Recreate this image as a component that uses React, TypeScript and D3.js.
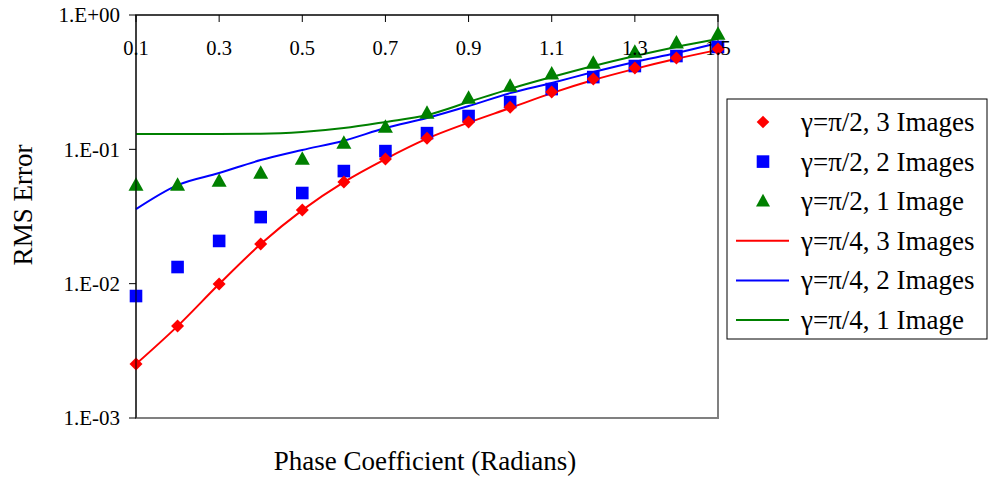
import React from 'react';
import * as d3 from 'd3';

const phase = [0.1, 0.2, 0.3, 0.4, 0.5, 0.6, 0.7, 0.8, 0.9, 1.0, 1.1, 1.2, 1.3, 1.4, 1.5];

// gamma = pi/2 (markers)
const half3 = [0.00252, 0.00483, 0.00993, 0.0197, 0.0353, 0.0571, 0.0847, 0.121, 0.160, 0.206, 0.267, 0.334, 0.403, 0.478, 0.558];
const half2 = [0.00809, 0.0133, 0.0208, 0.0313, 0.0473, 0.0689, 0.097, 0.132, 0.177, 0.225, 0.281, 0.345, 0.417, 0.495, 0.578];
const half1 = [0.0542, 0.0542, 0.058, 0.0666, 0.0847, 0.111, 0.1466, 0.186, 0.241, 0.296, 0.364, 0.439, 0.53, 0.619, 0.722];

// gamma = pi/4 (lines)
const quarter3 = [0.00252, 0.00483, 0.00993, 0.0197, 0.0353, 0.0571, 0.0847, 0.12, 0.158, 0.203, 0.262, 0.328, 0.397, 0.472, 0.55];
const quarter2 = [0.0359, 0.0542, 0.0666, 0.0832, 0.0989, 0.116, 0.144, 0.171, 0.21, 0.262, 0.312, 0.376, 0.447, 0.521, 0.619];
const quarter1 = [0.130, 0.130, 0.130, 0.1305, 0.1345, 0.144, 0.160, 0.18, 0.225, 0.282, 0.345, 0.417, 0.495, 0.578, 0.662];

const xTicks = [0.1, 0.3, 0.5, 0.7, 0.9, 1.1, 1.3, 1.5];
const yTicks = [1, 0.1, 0.01, 0.001];
const yTickLabels = ['1.E+00', '1.E-01', '1.E-02', '1.E-03'];

const legendLabels = [
  'γ=π/2, 3 Images',
  'γ=π/2, 2 Images',
  'γ=π/2, 1 Image',
  'γ=π/4, 3 Images',
  'γ=π/4, 2 Images',
  'γ=π/4, 1 Image',
];

const RED = '#ff0000';
const BLUE = '#0000ff';
const GREEN = '#008000';
const FONT = '"Liberation Serif", "Times New Roman", serif';

type MarkerKind = 'diamond' | 'square' | 'triangle';

const markerPath = (kind: MarkerKind, cx: number, cy: number, s: number) => {
  if (kind === 'diamond') {
    return `M${cx},${cy - s}L${cx + s},${cy}L${cx},${cy + s}L${cx - s},${cy}Z`;
  }
  if (kind === 'square') {
    return `M${cx - s},${cy - s}H${cx + s}V${cy + s}H${cx - s}Z`;
  }
  return `M${cx},${cy - s * 1.05}L${cx + s},${cy + s * 0.75}L${cx - s},${cy + s * 0.75}Z`;
};

export default function App() {
  const width = 988;
  const height = 477;
  const left = 136;
  const right = 718;
  const top = 15;
  const bottom = 418;

  const x = d3.scaleLinear().domain([0.1, 1.5]).range([left, right]);
  const y = d3.scaleLog().domain([0.001, 1]).range([bottom, top]);

  const line = d3
    .line<number>()
    .x((_, i) => x(phase[i]))
    .y((d) => y(d))
    .curve(d3.curveMonotoneX);

  const markerSeries: { values: number[]; kind: MarkerKind; color: string; size: number }[] = [
    { values: half1, kind: 'triangle', color: GREEN, size: 7.5 },
    { values: half2, kind: 'square', color: BLUE, size: 6.3 },
    { values: half3, kind: 'diamond', color: RED, size: 6.5 },
  ];

  const lineSeries = [
    { values: quarter1, color: GREEN },
    { values: quarter2, color: BLUE },
    { values: quarter3, color: RED },
  ];

  const legendItems: { kind: MarkerKind | 'line'; color: string }[] = [
    { kind: 'diamond', color: RED },
    { kind: 'square', color: BLUE },
    { kind: 'triangle', color: GREEN },
    { kind: 'line', color: RED },
    { kind: 'line', color: BLUE },
    { kind: 'line', color: GREEN },
  ];

  const lgX = 727;
  const lgY = 99;
  const lgW = 260;
  const lgH = 240;
  const rowH = 39.6;

  return (
    <svg
      width={width}
      height={height}
      style={{ position: 'fixed', left: 0, top: 0, background: '#fff' }}
      fontFamily={FONT}
    >
      <rect x={0} y={0} width={width} height={height} fill="#fff" />

      {/* plot area frame */}
      <rect x={left} y={top} width={right - left} height={bottom - top} fill="#fff" stroke="#808080" strokeWidth={2} />

      <g>
        {lineSeries.map((s, i) => (
          <path key={i} d={line(s.values) || ''} fill="none" stroke={s.color} strokeWidth={2} />
        ))}
      </g>

      <g>
        {markerSeries.map((s, i) =>
          s.values.map((v, j) => (
            <path key={`${i}-${j}`} d={markerPath(s.kind, x(phase[j]), y(v), s.size)} fill={s.color} />
          ))
        )}
      </g>

      {/* left axis */}
      <line x1={left} x2={left} y1={top} y2={bottom} stroke="#000" strokeWidth={1} />
      {yTicks.map((t, i) => (
        <g key={t}>
          <line x1={left - 7} x2={left} y1={y(t)} y2={y(t)} stroke="#000" />
          <text x={left - 16} y={y(t)} dy="0.35em" textAnchor="end" fontSize={21}>
            {yTickLabels[i]}
          </text>
        </g>
      ))}

      {/* top axis */}
      <line x1={left} x2={right} y1={top} y2={top} stroke="#000" strokeWidth={1} />
      {xTicks.map((t) => (
        <g key={t}>
          <line x1={x(t)} x2={x(t)} y1={top} y2={top + 7} stroke="#000" />
          <text x={x(t)} y={55} textAnchor="middle" fontSize={20.5}>
            {t.toFixed(1)}
          </text>
        </g>
      ))}

      {/* axis titles */}
      <text x={425} y={470} textAnchor="middle" fontSize={27}>
        Phase Coefficient (Radians)
      </text>
      <text transform={`translate(32,205) rotate(-90)`} textAnchor="middle" fontSize={27}>
        RMS Error
      </text>

      {/* legend */}
      <rect x={lgX} y={lgY} width={lgW} height={lgH} fill="#fff" stroke="#000" strokeWidth={1} />
      {legendItems.map((it, i) => {
        const cy = lgY + 23 + i * rowH;
        return (
          <g key={i}>
            {it.kind === 'line' ? (
              <line x1={736} x2={789} y1={cy} y2={cy} stroke={it.color} strokeWidth={2} />
            ) : (
              <path d={markerPath(it.kind, 763, cy, it.kind === 'triangle' ? 7 : 6.3)} fill={it.color} />
            )}
            <text x={801} y={cy} dy="0.33em" fontSize={27}>
              {legendLabels[i]}
            </text>
          </g>
        );
      })}
    </svg>
  );
}
